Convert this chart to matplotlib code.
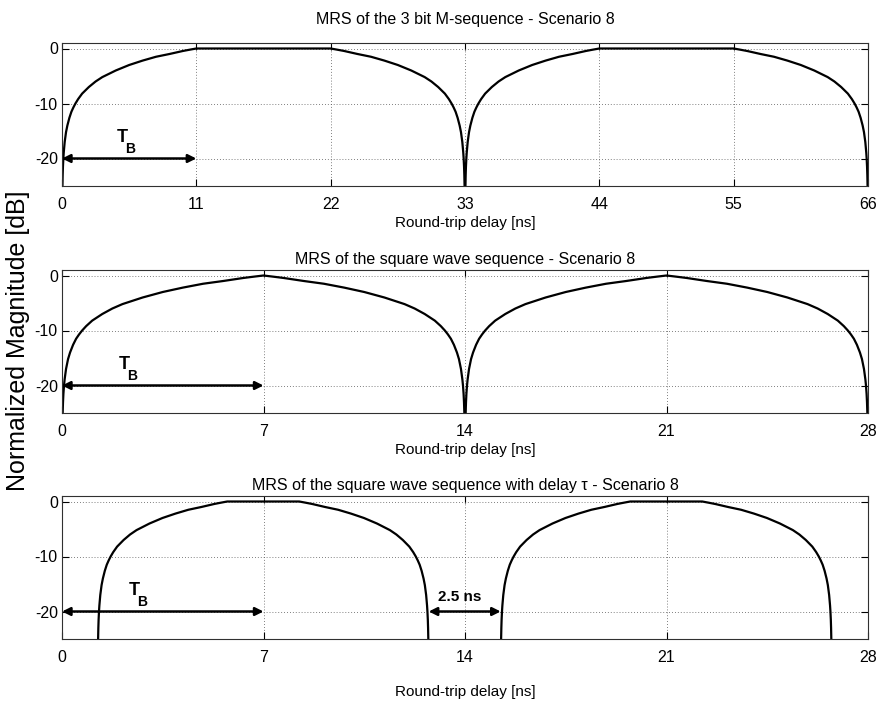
import numpy as np
import matplotlib
matplotlib.use("Agg")
import matplotlib.pyplot as plt

plt.rcParams['font.family'] = ['Liberation Sans', 'DejaVu Sans']
plt.rcParams['axes.unicode_minus'] = False

# ---- data ----
# shape of one rising edge: fraction of the edge -> level [dB]
ramp_frac = [0.0, 0.0015, 0.0032, 0.005, 0.007, 0.01, 0.013, 0.02, 0.03, 0.04,
             0.055, 0.07, 0.085, 0.1, 0.12, 0.15, 0.2, 0.25, 0.3, 0.35, 0.4,
             0.5, 0.6, 0.7, 0.8, 0.9, 0.95, 1.0]
ramp_db = [-30.0, -28.0, -25.0, -23.0, -21.5, -20.0, -18.9, -17.0, -15.2, -14.0,
           -12.6, -11.5, -10.7, -10.0, -9.2, -8.2, -7.0, -6.0, -5.2, -4.6, -4.0,
           -3.0, -2.2, -1.5, -1.0, -0.45, -0.22, 0.0]

titles = ["MRS of the 3 bit M-sequence - Scenario 8",
          "MRS of the square wave sequence - Scenario 8",
          "MRS of the square wave sequence with delay \u03c4 - Scenario 8"]
xticks = [[0, 11, 22, 33, 44, 55, 66],
          [0, 7, 14, 21, 28],
          [0, 7, 14, 21, 28]]
yticks = [0, -10, -20]
# lobes: start, rise time, flat time [ns]
lobes = [[(0, 11, 11), (33, 11, 11)],
         [(0, 7, 0), (14, 7, 0)],
         [(1.24, 4.5, 2.5), (15.24, 4.5, 2.5)]]
tb_end = [11, 7, 7]
gap_start, gap_end = 12.74, 15.24

fig = plt.figure(figsize=(8.82, 7.02), dpi=100)
bottoms = [1 - 186/702, 1 - 413/702, 1 - 639/702]
left, width, height = 62/882, 806/882, 143/702
title_pad = [14, 4, 4]
label_pad = [3, 3, 14]
tb_x = [4.9, 2.15, 2.5]

f = np.array(ramp_frac)
db = np.array(ramp_db)
arrow = dict(arrowstyle='<|-|>', color='black', lw=1.8,
             mutation_scale=12, shrinkA=0, shrinkB=0)

for i in range(3):
    ax = fig.add_axes([left, bottoms[i], width, height])
    for (s, r, fl) in lobes[i]:
        x_up = s + f * r
        x_dn = s + r + fl + (1 - f[::-1]) * r
        ax.plot(np.concatenate([x_up, x_dn]), np.concatenate([db, db[::-1]]),
                color='black', lw=1.6)
    ax.set_xlim(xticks[i][0], xticks[i][-1])
    ax.set_ylim(-25, 1)
    ax.set_xticks(xticks[i])
    ax.set_yticks(yticks)
    ax.tick_params(direction='in', top=True, right=True, length=5,
                   labelsize=11.5, width=0.8)
    ax.tick_params(axis='x', pad=8)
    ax.tick_params(axis='y', pad=3)
    ax.grid(True, linestyle=(0, (1, 2.5)), color='#555555', lw=0.6)
    for sp in ax.spines.values():
        sp.set_color('#303030')
        sp.set_linewidth(0.8)
    ax.set_title(titles[i], fontsize=11.5, pad=title_pad[i])
    ax.set_xlabel('Round-trip delay [ns]', fontsize=11, labelpad=label_pad[i])

    # T_B arrow
    ax.annotate('', xy=(tb_end[i], -20), xytext=(0, -20), arrowprops=arrow)
    ax.text(tb_x[i], -16.2, 'T', fontsize=13, fontweight='bold',
            ha='center', va='center')
    ax.annotate('B', xy=(tb_x[i], -16.2), xytext=(6, -8.5),
                textcoords='offset points', fontsize=10, fontweight='bold',
                ha='center', va='center')

    if i == 2:
        ax.annotate('', xy=(gap_end, -20), xytext=(gap_start, -20),
                    arrowprops=arrow)
        ax.text(13.83, -17.4, '2.5 ns', fontsize=11,
                fontweight='bold', ha='center', va='center')

fig.text(18/882, 1 - 341/702, 'Normalized Magnitude [dB]', rotation=90,
         fontsize=18, ha='center', va='center')

fig.savefig('out.png', dpi=100)
